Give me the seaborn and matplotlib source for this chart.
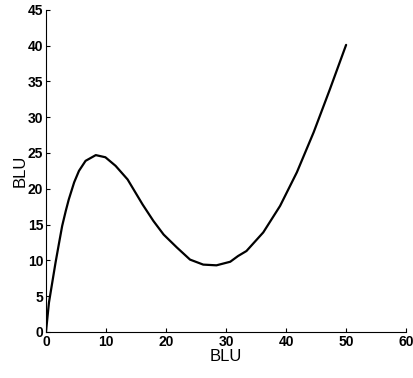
import numpy as np
import pandas as pd
import seaborn as sns
import matplotlib
matplotlib.use("Agg")
import matplotlib.pyplot as plt

sns.set_style("ticks")
plt.rcParams["font.family"] = ["Liberation Sans", "DejaVu Sans"]
plt.rcParams["text.color"] = "black"
plt.rcParams["axes.labelcolor"] = "black"
plt.rcParams["xtick.color"] = "black"
plt.rcParams["ytick.color"] = "black"

# curve
x_vals = [0, 0.1, 0.5, 1.05, 1.6, 2.2, 2.7, 3.3, 3.8, 4.7, 5.5, 6.6, 8.3,
          9.9, 11.6, 13.6, 16.1, 17.9, 19.6, 21.8, 24.0, 26.2, 28.4, 30.7,
          32.0, 33.4, 36.2, 39.0, 41.8, 44.6, 47.3, 50.0]
y_vals = [0, 0.8, 4.1, 6.9, 9.7, 12.5, 14.8, 16.9, 18.5, 20.9, 22.5, 23.9,
          24.7, 24.4, 23.2, 21.3, 17.8, 15.5, 13.6, 11.8, 10.1, 9.4, 9.3, 9.8,
          10.6, 11.3, 13.9, 17.6, 22.3, 27.9, 33.9, 40.1]
x_ticks = [0, 10, 20, 30, 40, 50, 60]
y_ticks = [0, 5, 10, 15, 20, 25, 30, 35, 40, 45]

df = pd.DataFrame({"x": x_vals, "y": y_vals})

fig = plt.figure(figsize=(4.14, 3.78), dpi=100)
ax = fig.add_axes([0.111, 0.122, 0.870, 0.852])

sns.lineplot(data=df, x="x", y="y", sort=False, color="black", linewidth=1.6, ax=ax)
ax.lines[0].set_solid_joinstyle("round")

ax.set_xlim(0, 60)
ax.set_ylim(0, 45)
ax.set_xticks(x_ticks)
ax.set_yticks(y_ticks)
ax.tick_params(direction="in", length=3, width=0.8, labelsize=10, pad=2)
for lbl in ax.get_xticklabels() + ax.get_yticklabels():
    lbl.set_fontweight("bold")

sns.despine(ax=ax)
for s in ["left", "bottom"]:
    ax.spines[s].set_linewidth(0.8)
    ax.spines[s].set_color("black")

ax.set_xlabel("BLU", fontsize=12, labelpad=0)
ax.set_ylabel("BLU", fontsize=12, labelpad=0)

fig.savefig("out.png", dpi=100)
